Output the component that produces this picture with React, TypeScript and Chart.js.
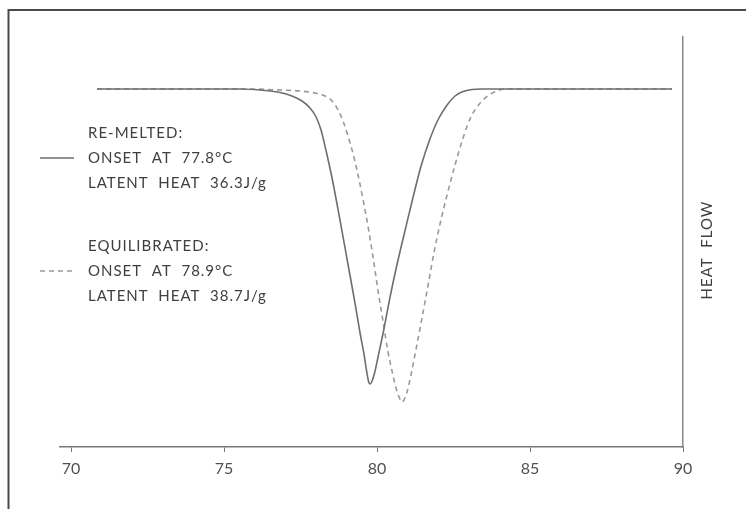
import React, { useEffect, useRef } from "react";
import { Chart, registerables } from "chart.js";

Chart.register(...registerables);

// ---- data ----
const X_TICKS = [70, 75, 80, 85, 90];
const X_MIN = 69.64;
const X_MAX = 90;
const Y_MIN = 0;
const Y_MAX = 41;

const REMELTED_T = [70.85, 75.52, 76.34, 76.83, 77.22, 77.55, 77.81, 78.01, 78.17, 78.33, 78.53, 78.79, 79.05, 79.28, 79.44, 79.58, 79.66, 79.72, 79.78, 79.84, 79.92, 80.04, 80.2, 80.42, 80.65, 80.92, 81.18, 81.44, 81.73, 81.99, 82.29, 82.55, 82.81, 83.1, 83.43, 89.64];
const REMELTED_HF = [35.8, 35.8, 35.65, 35.45, 35.1, 34.6, 33.9, 33.0, 31.7, 29.7, 26.9, 22.7, 18.3, 14.4, 11.5, 9.2, 7.6, 6.6, 6.3, 6.6, 7.4, 9.1, 11.4, 14.9, 18.2, 21.7, 25.0, 28.1, 30.8, 32.7, 34.2, 35.1, 35.55, 35.75, 35.8, 35.8];

const EQUIL_T = [70.85, 75.85, 76.83, 77.48, 77.97, 78.3, 78.53, 78.73, 78.89, 79.05, 79.22, 79.38, 79.54, 79.71, 79.87, 80.03, 80.2, 80.36, 80.52, 80.65, 80.75, 80.82, 80.88, 80.98, 81.11, 81.27, 81.47, 81.67, 81.86, 82.06, 82.29, 82.55, 82.81, 83.07, 83.37, 83.66, 83.92, 84.18, 89.64];
const EQUIL_HF = [35.8, 35.8, 35.7, 35.6, 35.4, 35.1, 34.6, 33.7, 32.6, 31.1, 29.3, 27.2, 24.8, 22.0, 19.0, 15.7, 12.5, 9.5, 7.2, 5.6, 4.8, 4.5, 4.7, 5.5, 7.2, 9.7, 12.9, 16.2, 19.4, 22.3, 25.2, 28.2, 30.9, 33.0, 34.4, 35.2, 35.6, 35.8, 35.8];

const REMELTED_LABELS = ["RE-MELTED:", "ONSET  AT  77.8°C", "LATENT  HEAT  36.3J/g"];
const EQUIL_LABELS = ["EQUILIBRATED:", "ONSET  AT  78.9°C", "LATENT  HEAT  38.7J/g"];
const Y_TITLE = "HEAT  FLOW";

const FONT = "Lato, 'DejaVu Sans', sans-serif";

const decorPlugin = {
  id: "decor",
  afterDraw(chart: any) {
    const ctx = chart.ctx as CanvasRenderingContext2D;
    ctx.save();
    // frame
    ctx.strokeStyle = "#4a4a4a";
    ctx.lineWidth = 2;
    ctx.strokeRect(8.5, 10, 900, 700);

    // legend texts
    ctx.fillStyle = "#404040";
    ctx.font = `15px ${FONT}`;
    (ctx as any).letterSpacing = "1px";
    ctx.textBaseline = "middle";
    ctx.textAlign = "left";
    const groups = [
      { labels: REMELTED_LABELS, y0: 133, dash: [] as number[], color: "#6e6e6e" },
      { labels: EQUIL_LABELS, y0: 246, dash: [5, 4], color: "#9a9a9a" },
    ];
    for (const g of groups) {
      g.labels.forEach((t, i) => ctx.fillText(t, 88, g.y0 + i * 25));
      ctx.beginPath();
      ctx.setLineDash(g.dash);
      ctx.strokeStyle = g.color;
      ctx.lineWidth = 1.5;
      ctx.moveTo(40, g.y0 + 25);
      ctx.lineTo(74, g.y0 + 25);
      ctx.stroke();
      ctx.setLineDash([]);
    }

    // y title (bottom to top)
    ctx.translate(707, 250);
    ctx.rotate(-Math.PI / 2);
    ctx.textAlign = "center";
    ctx.fillStyle = "#404040";
    ctx.fillText(Y_TITLE, 0, 0);
    ctx.restore();
  },
};

export default function App() {
  const ref = useRef<HTMLCanvasElement>(null);

  useEffect(() => {
    if (!ref.current) return;
    const chart = new Chart(ref.current, {
      type: "line",
      data: {
        datasets: [
          {
            label: "Re-melted",
            data: REMELTED_T.map((x, i) => ({ x, y: REMELTED_HF[i] })),
            borderColor: "#6e6e6e",
            borderWidth: 1.6,
            pointRadius: 0,
            cubicInterpolationMode: "monotone",
            fill: false,
          },
          {
            label: "Equilibrated",
            data: EQUIL_T.map((x, i) => ({ x, y: EQUIL_HF[i] })),
            borderColor: "#9a9a9a",
            borderWidth: 1.6,
            borderDash: [5, 4],
            pointRadius: 0,
            cubicInterpolationMode: "monotone",
            fill: false,
          },
        ],
      },
      options: {
        animation: false,
        responsive: false,
        layout: { padding: { left: 60, right: 63, top: 37, bottom: 22 } },
        plugins: { legend: { display: false }, tooltip: { enabled: false }, title: { display: false } },
        scales: {
          x: {
            type: "linear",
            min: X_MIN,
            max: X_MAX,
            afterBuildTicks: (s: any) => {
              s.ticks = X_TICKS.map((v) => ({ value: v }));
            },
            afterFit: (s: any) => {
              s.height = 40;
            },
            grid: { display: true, drawOnChartArea: false, drawTicks: true, tickLength: 5, color: "#777", lineWidth: 1 },
            border: { display: true, color: "#777", width: 1.5 },
            ticks: { color: "#505050", font: { family: FONT, size: 16 }, padding: 7, maxRotation: 0, autoSkip: false },
          },
          y: {
            type: "linear",
            position: "right",
            min: Y_MIN,
            max: Y_MAX,
            afterFit: (s: any) => {
              s.width = 0;
            },
            grid: { display: false },
            border: { display: true, color: "#888", width: 1.5 },
            ticks: { display: false },
          },
        },
      } as any,
      plugins: [decorPlugin],
    });
    return () => chart.destroy();
  }, []);

  return (
    <div style={{ position: "absolute", left: 0, top: 0, width: 746, height: 509, background: "#fff" }}>
      <canvas ref={ref} width={746} height={509} style={{ display: "block" }} />
    </div>
  );
}
